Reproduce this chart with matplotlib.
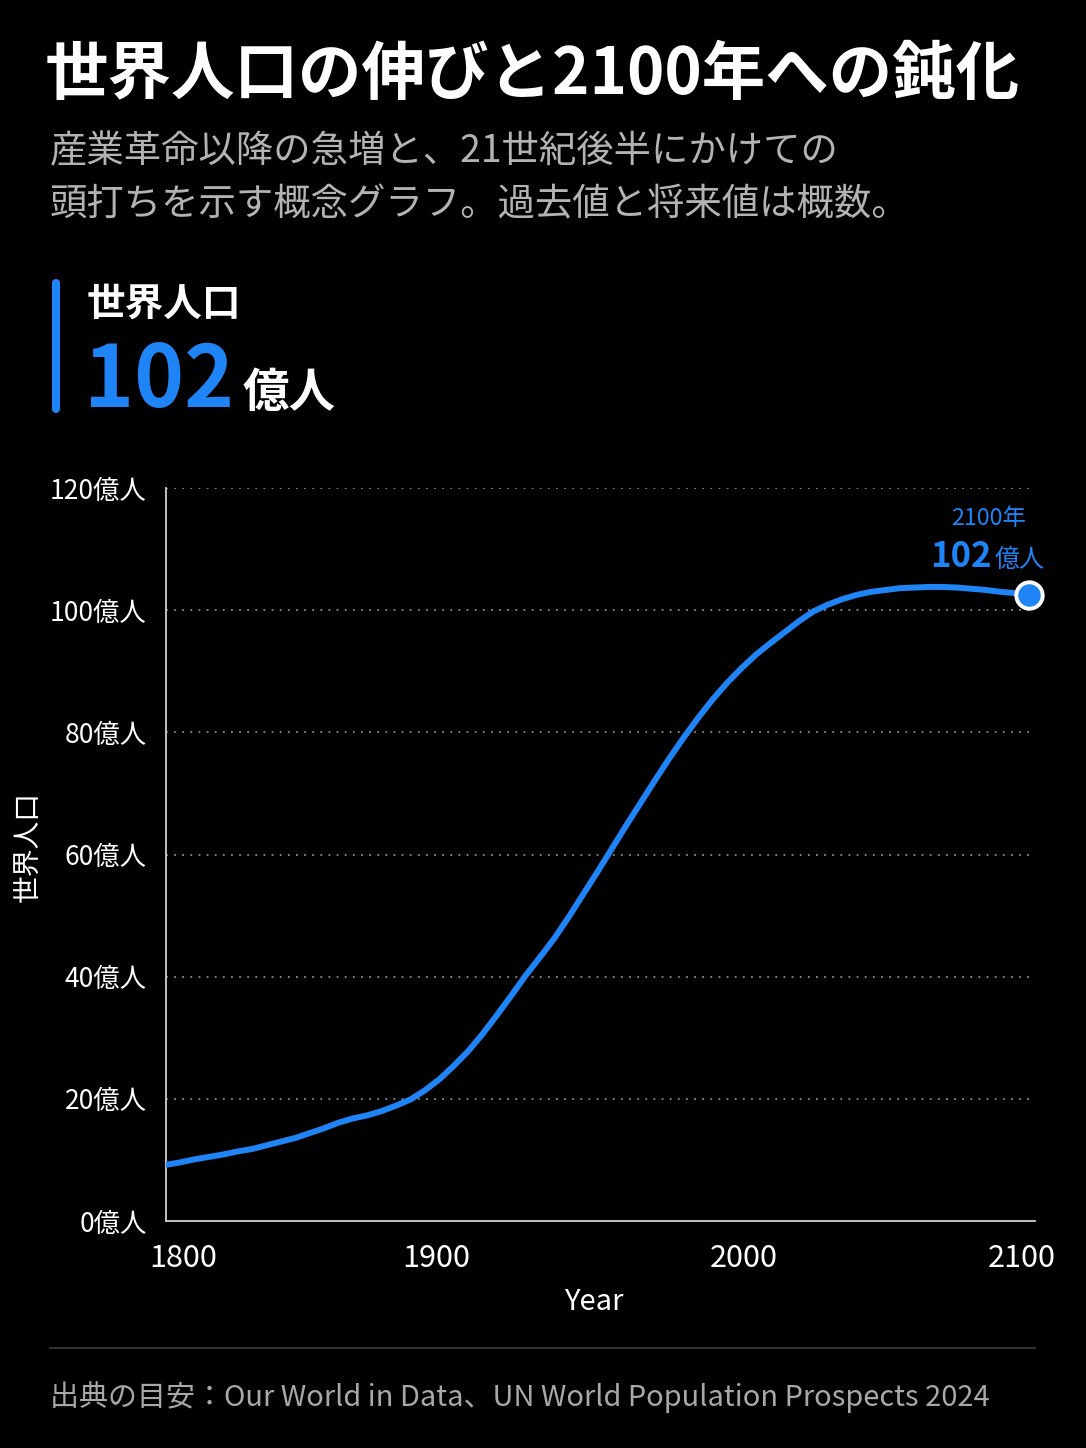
import matplotlib
matplotlib.use("Agg")
import matplotlib.pyplot as plt
from matplotlib.lines import Line2D
from matplotlib.transforms import ScaledTranslation

plt.rcParams['font.family'] = ['Noto Sans CJK JP', 'DejaVu Sans']

# data (conceptual values, 億人), 5-year steps
years = list(range(1800, 2101, 5))
pop = [9.2, 9.6, 10.1, 10.5, 10.9, 11.4, 11.8, 12.4, 13.0, 13.6,
       14.4, 15.2, 16.1, 16.8, 17.3, 18.0, 18.9, 19.9, 21.4, 23.2,
       25.4, 27.8, 30.6, 33.7, 36.9, 40.2, 43.2, 46.3, 49.8, 53.5,
       57.2, 61.0, 64.8, 68.5, 72.2, 75.8, 79.2, 82.4, 85.4, 88.1,
       90.5, 92.7, 94.6, 96.4, 98.2, 99.8, 100.9, 101.8, 102.5, 103.0,
       103.3, 103.6, 103.7, 103.8, 103.8, 103.7, 103.5, 103.3, 103.0, 102.8, 102.5]
y_ticks = [0, 20, 40, 60, 80, 100, 120]
x_ticks = [1800, 1900, 2000, 2100]

W, H = 1086, 1448
BLUE = '#1f84f5'
BG = '#000000'


def fx(x):
    return x / W


def fy(y):
    return 1 - y / H


fig = plt.figure(figsize=(W / 100, H / 100), dpi=100, facecolor=BG)

# header
fig.text(fx(45), fy(94), '世界人口の伸びと2100年への鈍化', color='white',
         fontsize=45.7, fontweight='bold', va='baseline', ha='left')
fig.text(fx(50), fy(162), '産業革命以降の急増と、21世紀後半にかけての', color='#b3b3b3',
         fontsize=26.9, va='baseline', ha='left')
fig.text(fx(50), fy(215), '頭打ちを示す概念グラフ。過去値と将来値は概数。', color='#b3b3b3',
         fontsize=26.9, va='baseline', ha='left')

# KPI block
fig.add_artist(Line2D([fx(56), fx(56)], [fy(283), fy(409)], transform=fig.transFigure,
                      color=BLUE, lw=5.8, solid_capstyle='round'))
fig.text(fx(87), fy(316), '世界人口', color='white', fontsize=27.8, fontweight='bold',
         va='baseline', ha='left')
big = fig.text(fx(84), fy(407), f'{pop[-1]:.0f}', color=BLUE, fontsize=61, fontweight='bold',
               va='baseline', ha='left')
fig.canvas.draw()
bb = big.get_window_extent()
fig.text((bb.x1 + 8) / W, fy(407), '億人', color='white', fontsize=33.5, fontweight='bold',
         va='baseline', ha='left')

# chart
ax = fig.add_axes([fx(166), fy(1221), fx(1035 - 166), (1221 - 488) / H])
ax.set_facecolor(BG)
ax.plot(years, pop, color=BLUE, lw=4.3, solid_capstyle='round', solid_joinstyle='round',
        zorder=3)
ax.plot(years[-1], pop[-1], 'o', ms=19, mfc=BLUE, mec='white', mew=2.8, zorder=4,
        clip_on=False)

ax.set_xlim(1800, 2102)
ax.set_ylim(0, 120)
ax.set_yticks(y_ticks)
ax.set_yticklabels([f'{v}億人' for v in y_ticks])
ax.set_xticks(x_ticks)
ax.set_xticklabels([str(v) for v in x_ticks])
ax.tick_params(axis='y', length=0, pad=14, labelsize=19, colors='white')
ax.tick_params(axis='x', length=0, pad=16, labelsize=22, colors='white')

# nudge x tick labels the way the reference lays them out
for lab, dx in zip(ax.get_xticklabels(), [17, -17, 2, -7]):
    lab.set_transform(lab.get_transform() + ScaledTranslation(dx / 100, 0, fig.dpi_scale_trans))

for v in y_ticks[1:]:
    ax.axhline(v, color='#8a8a8a', lw=1.3, ls=(0, (1, 3.5)), zorder=1)

for s in ['top', 'right']:
    ax.spines[s].set_visible(False)
for s in ['left', 'bottom']:
    ax.spines[s].set_color('#d0d0d0')
    ax.spines[s].set_linewidth(1.3)

# end annotation
ax.annotate(f'{years[-1]}年', (years[-1], pop[-1]), xytext=(-41, 70),
            textcoords='offset pixels', color=BLUE, fontsize=16.8,
            ha='center', va='baseline')
ax.annotate(f'{pop[-1]:.0f}', (years[-1], pop[-1]), xytext=(-38, 28),
            textcoords='offset pixels', color=BLUE, fontsize=25, fontweight='bold',
            ha='right', va='baseline')
ax.annotate('億人', (years[-1], pop[-1]), xytext=(-35, 28),
            textcoords='offset pixels', color=BLUE, fontsize=18,
            ha='left', va='baseline')

fig.text(fx(594), fy(1302), 'Year', color='white', fontsize=21, ha='center', va='center')
fig.text(fx(28), fy(847), '世界人口', color='white', fontsize=20, rotation=90,
         ha='center', va='center')

# footer
fig.add_artist(Line2D([fx(50), fx(1035)], [fy(1348), fy(1348)], transform=fig.transFigure,
                      color='#3c3c3c', lw=1.2))
fig.text(fx(50), fy(1397), '出典の目安：Our World in Data、UN World Population Prospects 2024',
         color='#a8a8a8', fontsize=20.9, ha='left', va='center')

fig.savefig('out.png', dpi=100, facecolor=BG)
